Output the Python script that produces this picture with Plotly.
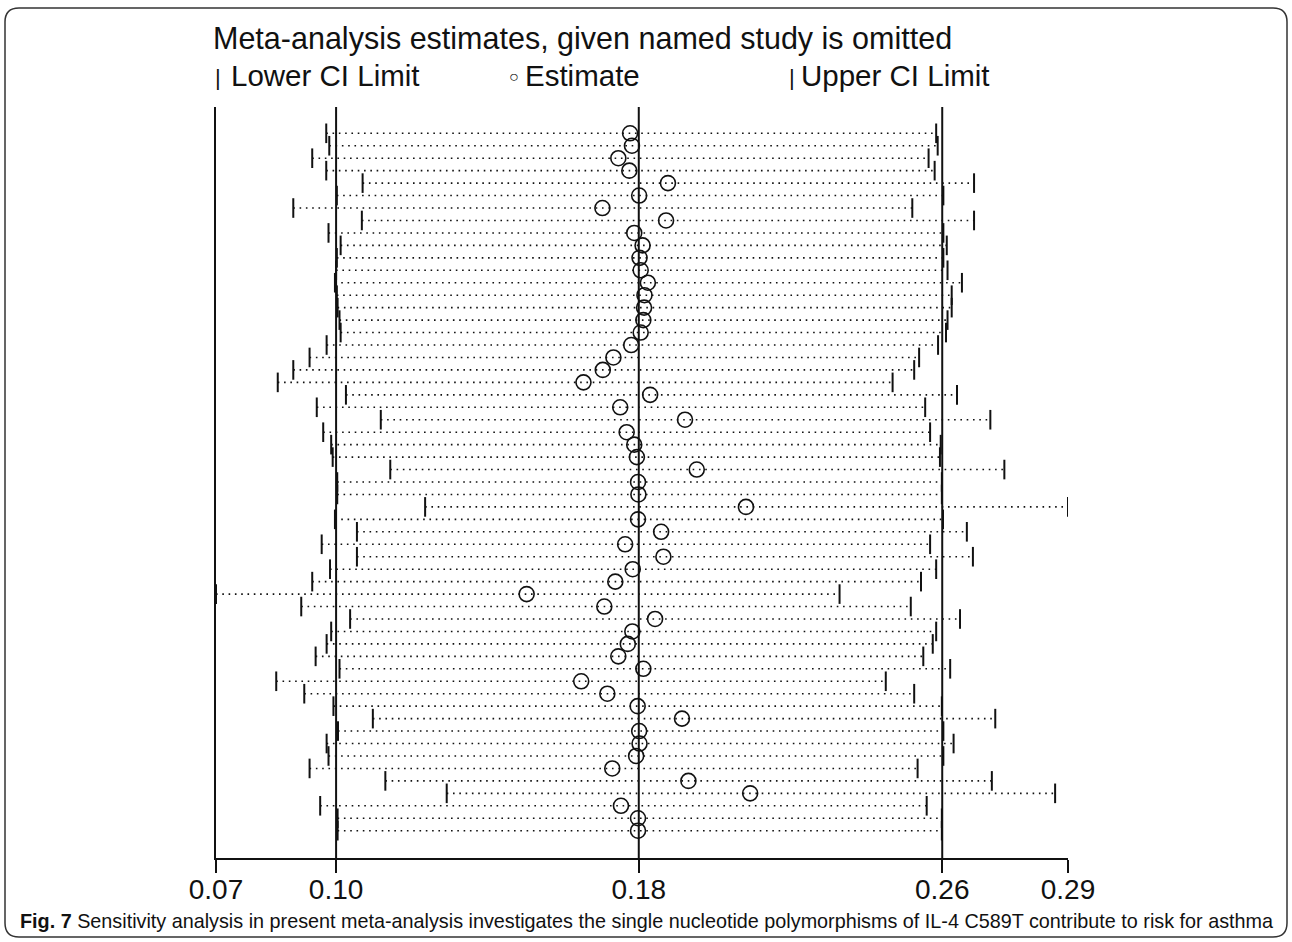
import plotly.graph_objects as go

# ---------------- data ----------------
studies = list(range(1, 58))

lower = [0.0974, 0.0982, 0.0937, 0.0974, 0.1070, 0.1002, 0.0887, 0.1068, 0.0980, 0.1012,
         0.1002, 0.1000, 0.0997, 0.1002, 0.1004, 0.1009, 0.1012, 0.0975, 0.0930, 0.0887,
         0.0846, 0.1026, 0.0949, 0.1118, 0.0966, 0.0987, 0.0991, 0.1143, 0.1003, 0.1003,
         0.1235, 0.0997, 0.1055, 0.0962, 0.1055, 0.0984, 0.0937, 0.0683, 0.0908, 0.1037,
         0.0987, 0.0975, 0.0946, 0.1009, 0.0842, 0.0916, 0.0993, 0.1097, 0.1005, 0.0975,
         0.0980, 0.0930, 0.1130, 0.1292, 0.0958, 0.1004, 0.1004]

estimate = [0.1776, 0.1781, 0.1745, 0.1774, 0.1876, 0.1800, 0.1703, 0.1871, 0.1787, 0.1809,
            0.1801, 0.1804, 0.1823, 0.1814, 0.1813, 0.1811, 0.1804, 0.1779, 0.1732, 0.1704,
            0.1653, 0.1829, 0.1750, 0.1921, 0.1767, 0.1787, 0.1794, 0.1952, 0.1797, 0.1798,
            0.2082, 0.1797, 0.1858, 0.1763, 0.1864, 0.1783, 0.1737, 0.1503, 0.1708, 0.1842,
            0.1782, 0.1770, 0.1745, 0.1811, 0.1647, 0.1716, 0.1796, 0.1913, 0.1800, 0.1801,
            0.1792, 0.1729, 0.1930, 0.2093, 0.1752, 0.1797, 0.1797]

upper = [0.2584, 0.2588, 0.2564, 0.2580, 0.2684, 0.2603, 0.2521, 0.2684, 0.2603, 0.2612,
         0.2603, 0.2614, 0.2652, 0.2625, 0.2625, 0.2614, 0.2610, 0.2589, 0.2539, 0.2526,
         0.2469, 0.2639, 0.2555, 0.2727, 0.2568, 0.2596, 0.2594, 0.2764, 0.2599, 0.2599,
         0.2932, 0.2602, 0.2665, 0.2568, 0.2681, 0.2584, 0.2544, 0.2329, 0.2517, 0.2647,
         0.2584, 0.2575, 0.2550, 0.2621, 0.2451, 0.2526, 0.2599, 0.2740, 0.2603, 0.2630,
         0.2603, 0.2535, 0.2731, 0.2898, 0.2559, 0.2599, 0.2599]

overall_lower = 0.1000
overall_estimate = 0.1799
overall_upper = 0.2600

title_text = "Meta-analysis estimates, given named study is omitted"
legend_lower = "Lower CI Limit"
legend_est = "Estimate"
legend_upper = "Upper CI Limit"
caption_bold = "Fig. 7"
caption_rest = (" Sensitivity analysis in present meta-analysis investigates the single "
                "nucleotide polymorphisms of IL-4 C589T contribute to risk for asthma")

# ---------------- layout helpers ----------------
W, H = 1292, 942
def px(x):
    return x / W
def py(y):
    return 1 - y / H

xmin = min(lower)
xmax = max(upper)
tickvals = [xmin, overall_lower, overall_estimate, overall_upper, xmax]
ticktext = ["%.2f" % v for v in tickvals]

FONT = "Liberation Sans, Arial, Helvetica, sans-serif"
INK = "#111111"

fig = go.Figure()

# dotted CI lines
seg_x, seg_y = [], []
for s, lo, up in zip(studies, lower, upper):
    seg_x += [lo, up, None]
    seg_y += [s, s, None]
fig.add_trace(go.Scatter(
    x=seg_x, y=seg_y, mode="lines",
    line=dict(color=INK, width=1.6, dash="1.6px,4.7px"),
    hoverinfo="skip", showlegend=False))

# lower / upper ticks
fig.add_trace(go.Scatter(
    x=lower, y=studies, mode="markers",
    marker=dict(symbol="line-ns", size=14, line=dict(color=INK, width=2)),
    name="Lower CI Limit", showlegend=False))
fig.add_trace(go.Scatter(
    x=upper, y=studies, mode="markers",
    marker=dict(symbol="line-ns", size=14, line=dict(color=INK, width=2)),
    name="Upper CI Limit", showlegend=False))

# estimates
fig.add_trace(go.Scatter(
    x=estimate, y=studies, mode="markers",
    marker=dict(symbol="circle-open", size=15, color=INK, line=dict(color=INK, width=1.6)),
    name="Estimate", showlegend=False))

# overall lines
for v in [overall_lower, overall_estimate, overall_upper]:
    fig.add_shape(type="line", xref="x", yref="paper",
                  x0=v, x1=v, y0=py(858), y1=py(107),
                  line=dict(color=INK, width=2))

# frame (rounded rectangle)
x0, x1, yt, yb = px(5), px(1287), py(8), py(937)
rx, ry = 14 / W, 14 / H
path = (f"M {x0+rx},{yt} L {x1-rx},{yt} Q {x1},{yt} {x1},{yt-ry} "
        f"L {x1},{yb+ry} Q {x1},{yb} {x1-rx},{yb} L {x0+rx},{yb} "
        f"Q {x0},{yb} {x0},{yb+ry} L {x0},{yt-ry} Q {x0},{yt} {x0+rx},{yt} Z")
fig.add_shape(type="path", xref="paper", yref="paper", path=path,
              line=dict(color="#333333", width=1.5))

# title & legend text
ann = []
ann.append(dict(text=title_text, x=px(211), y=py(39), xanchor="left", yanchor="middle",
                font=dict(family=FONT, size=30.5, color=INK)))
ann.append(dict(text="|", x=px(213), y=py(78), xanchor="left", yanchor="middle",
                font=dict(family=FONT, size=22, color=INK)))
ann.append(dict(text=legend_lower, x=px(229), y=py(76), xanchor="left", yanchor="middle",
                font=dict(family=FONT, size=29.5, color=INK)))
ann.append(dict(text="○", x=px(507), y=py(77), xanchor="left", yanchor="middle",
                font=dict(family=FONT, size=16, color=INK)))
ann.append(dict(text=legend_est, x=px(523), y=py(76), xanchor="left", yanchor="middle",
                font=dict(family=FONT, size=29.5, color=INK)))
ann.append(dict(text="|", x=px(787), y=py(78), xanchor="left", yanchor="middle",
                font=dict(family=FONT, size=22, color=INK)))
ann.append(dict(text=legend_upper, x=px(799), y=py(76), xanchor="left", yanchor="middle",
                font=dict(family=FONT, size=29.5, color=INK)))
ann.append(dict(text="<b>" + caption_bold + "</b>" + caption_rest,
                x=px(18), y=py(921), xanchor="left", yanchor="middle",
                font=dict(family=FONT, size=19.8, color=INK)))
for a in ann:
    a.update(xref="paper", yref="paper", showarrow=False)

s_row = (830.7 - 133.3) / 56
y_top = 1 - (133.3 - 107) / s_row
y_bot = 57 + (858 - 830.7) / s_row

fig.update_layout(
    width=W, height=H,
    margin=dict(l=0, r=0, t=0, b=0, pad=0, autoexpand=False),
    paper_bgcolor="white", plot_bgcolor="white",
    showlegend=False,
    annotations=ann,
    xaxis=dict(domain=[px(216), px(1068)], range=[xmin, xmax],
               tickmode="array", tickvals=tickvals, ticktext=ticktext,
               ticks="outside", ticklen=13, tickwidth=2, tickcolor=INK,
               showline=True, linecolor=INK, linewidth=2,
               showgrid=False, zeroline=False, automargin=False,
               tickfont=dict(family=FONT, size=28, color=INK)),
    yaxis=dict(domain=[py(858), py(107)], range=[y_bot, y_top],
               showline=True, linecolor=INK, linewidth=2, automargin=False,
               showticklabels=False, ticks="", showgrid=False, zeroline=False),
)
try:
    fig.update_xaxes(ticklabelstandoff=-8)
except Exception:
    pass

fig.write_html("out.html")
